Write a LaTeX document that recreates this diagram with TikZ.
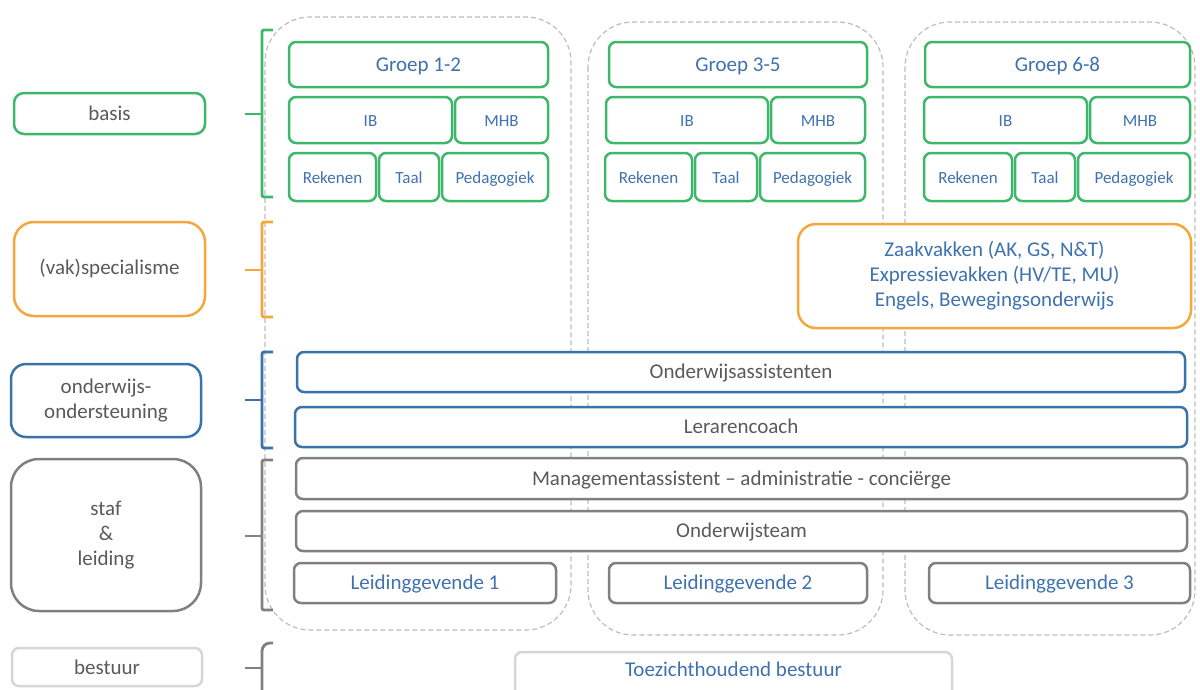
\documentclass[tikz,border=0pt]{standalone}
\usepackage{fontspec}
\setmainfont{Carlito}

\definecolor{basisgreen}{HTML}{3DB86A}
\definecolor{vakorange}{HTML}{F5A83A}
\definecolor{steunblue}{HTML}{3A72AA}
\definecolor{stafgray}{HTML}{808080}
\definecolor{labeltext}{HTML}{5A5A5A}
\definecolor{boxtext}{HTML}{3F72AF}
\definecolor{bestuurgray}{HTML}{D6D6D6}
\definecolor{lanegray}{HTML}{BDBDBD}

\tikzset{
  lane/.style={draw=lanegray,line width=1.2pt,dash pattern=on 5pt off 3pt,
    rounded corners=45pt},
  rolbox/.style={rectangle,rounded corners=7pt,line width=2.5pt,fill=white,
    inner sep=0pt,align=center,font=\fontsize{21}{25}\selectfont},
  smallbox/.style={rolbox,font=\fontsize{17}{20}\selectfont},
  regel/.style={text height=16pt,text depth=3pt},
  groen/.style={draw=basisgreen,text=boxtext,regel},
  blauw/.style={draw=steunblue,text=labeltext},
  grijs/.style={draw=stafgray,text=labeltext},
  haak/.style={line width=2.8pt,rounded corners=2pt}
}

\begin{document}
\begin{tikzpicture}[x=1pt,y=-1pt]
          \useasboundingbox (0,0) rectangle (1200,689);
          \clip (0,0) rectangle (1200,689);
          % kolommen per bouw
          \draw[lane] (265,17) rectangle (571,630);
          \draw[lane] (588,22) rectangle (883,635);
          \draw[lane] (905,22) rectangle (1195,635);

          % labels links
          \node[rolbox,draw=basisgreen,text=labeltext,rounded corners=10pt,
            minimum width=191,minimum height=41] (basis) at (109.5,113.5) {basis};
          \node[rolbox,draw=vakorange,text=labeltext,rounded corners=20pt,
            minimum width=191,minimum height=94] (vak) at (109.5,269) {(vak)specialisme};
          \node[rolbox,blauw,rounded corners=15pt,
            minimum width=190,minimum height=73] (steun) at (106,400.5)
            {onderwijs-\\ondersteuning};
          \node[rolbox,grijs,rounded corners=28pt,
            minimum width=190,minimum height=152] (staf) at (106,535)
            {staf\\\&\\leiding};
          \node[rolbox,draw=bestuurgray,text=labeltext,
            minimum width=190,minimum height=38] (bestuur) at (107,667) {bestuur};

          % haken
          \draw[haak,basisgreen] (273,30) -- (262,30) -- (262,197) -- (273,197);
          \draw[haak,basisgreen] (245,114) -- (262,114);
          \draw[haak,vakorange] (273,222) -- (262,222) -- (262,317) -- (273,317);
          \draw[haak,vakorange] (245,270) -- (262,270);
          \draw[haak,steunblue] (273,352) -- (262,352) -- (262,448) -- (273,448);
          \draw[haak,steunblue] (245,400) -- (262,400);
          \draw[haak,stafgray] (273,460) -- (262,460) -- (262,610) -- (273,610);
          \draw[haak,stafgray] (245,536) -- (262,536);
          \draw[haak,stafgray,rounded corners=8pt] (273,643) -- (262,643)
          -- (262,700);
          \draw[haak,stafgray] (245,668) -- (262,668);

          % groep 1-2
          \node[rolbox,groen,minimum width=259,minimum height=45] (g12) at (418.5,64.5) {Groep 1-2};
          \node[smallbox,groen,minimum width=163,minimum height=46] (ib1) at (370.5,120) {IB};
          \node[smallbox,groen,minimum width=93,minimum height=46] (mhb1) at (501.5,120) {MHB};
          \node[smallbox,groen,minimum width=87,minimum height=48] (rek1) at (332.5,177) {Rekenen};
          \node[smallbox,groen,minimum width=60,minimum height=48] (taal1) at (409,177) {Taal};
          \node[smallbox,groen,minimum width=106,minimum height=48] (ped1) at (495,177) {Pedagogiek};
          % groep 3-5
          \node[rolbox,groen,minimum width=258,minimum height=45] (g35) at (738,64.5) {Groep 3-5};
          \node[smallbox,groen,minimum width=162,minimum height=46] (ib2) at (687,120) {IB};
          \node[smallbox,groen,minimum width=94,minimum height=46] (mhb2) at (818,120) {MHB};
          \node[smallbox,groen,minimum width=87,minimum height=48] (rek2) at (648.5,177) {Rekenen};
          \node[smallbox,groen,minimum width=62,minimum height=48] (taal2) at (726,177) {Taal};
          \node[smallbox,groen,minimum width=105,minimum height=48] (ped2) at (812.5,177) {Pedagogiek};
          % groep 6-8
          \node[rolbox,groen,minimum width=265,minimum height=45] (g68) at (1057.5,64.5) {Groep 6-8};
          \node[smallbox,groen,minimum width=163,minimum height=46] (ib3) at (1005.5,120) {IB};
          \node[smallbox,groen,minimum width=100,minimum height=46] (mhb3) at (1140,120) {MHB};
          \node[smallbox,groen,minimum width=88,minimum height=48] (rek3) at (968,177) {Rekenen};
          \node[smallbox,groen,minimum width=60,minimum height=48] (taal3) at (1045,177) {Taal};
          \node[smallbox,groen,minimum width=112,minimum height=48] (ped3) at (1134,177) {Pedagogiek};

          % specialisme
          \node[rolbox,draw=vakorange,text=boxtext,rounded corners=18pt,
            minimum width=393,minimum height=104] (vakken) at (994.5,276)
            {Zaakvakken (AK, GS, N\&T)\\Expressievakken (HV/TE, MU)\\Engels, Bewegingsonderwijs};

          % ondersteuning
          \node[rolbox,blauw,regel,minimum width=888,minimum height=40] (oa) at (741,372) {Onderwijsassistenten};
          \node[rolbox,blauw,regel,minimum width=892,minimum height=40] (coach) at (741,427) {Lerarencoach};

          % staf en leiding
          \node[rolbox,grijs,regel,minimum width=891,minimum height=41] (mgmt) at (741.5,478.5)
            {Managementassistent -- administratie - conciërge};
          \node[rolbox,grijs,regel,minimum width=891,minimum height=40] (team) at (741.5,531) {Onderwijsteam};
          \node[rolbox,grijs,regel,text=boxtext,minimum width=262,minimum height=40] (lg1) at (425,583) {Leidinggevende 1};
          \node[rolbox,grijs,regel,text=boxtext,minimum width=258,minimum height=40] (lg2) at (738,583) {Leidinggevende 2};
          \node[rolbox,grijs,regel,text=boxtext,minimum width=261,minimum height=40] (lg3) at (1059.5,583) {Leidinggevende 3};

          % bestuur
          \node[rolbox,draw=bestuurgray,text=boxtext,text height=15pt,text depth=15pt,
            minimum width=437,minimum height=48] (toezicht) at (733.5,676)
            {Toezichthoudend bestuur};
        \end{tikzpicture}
\end{document}
